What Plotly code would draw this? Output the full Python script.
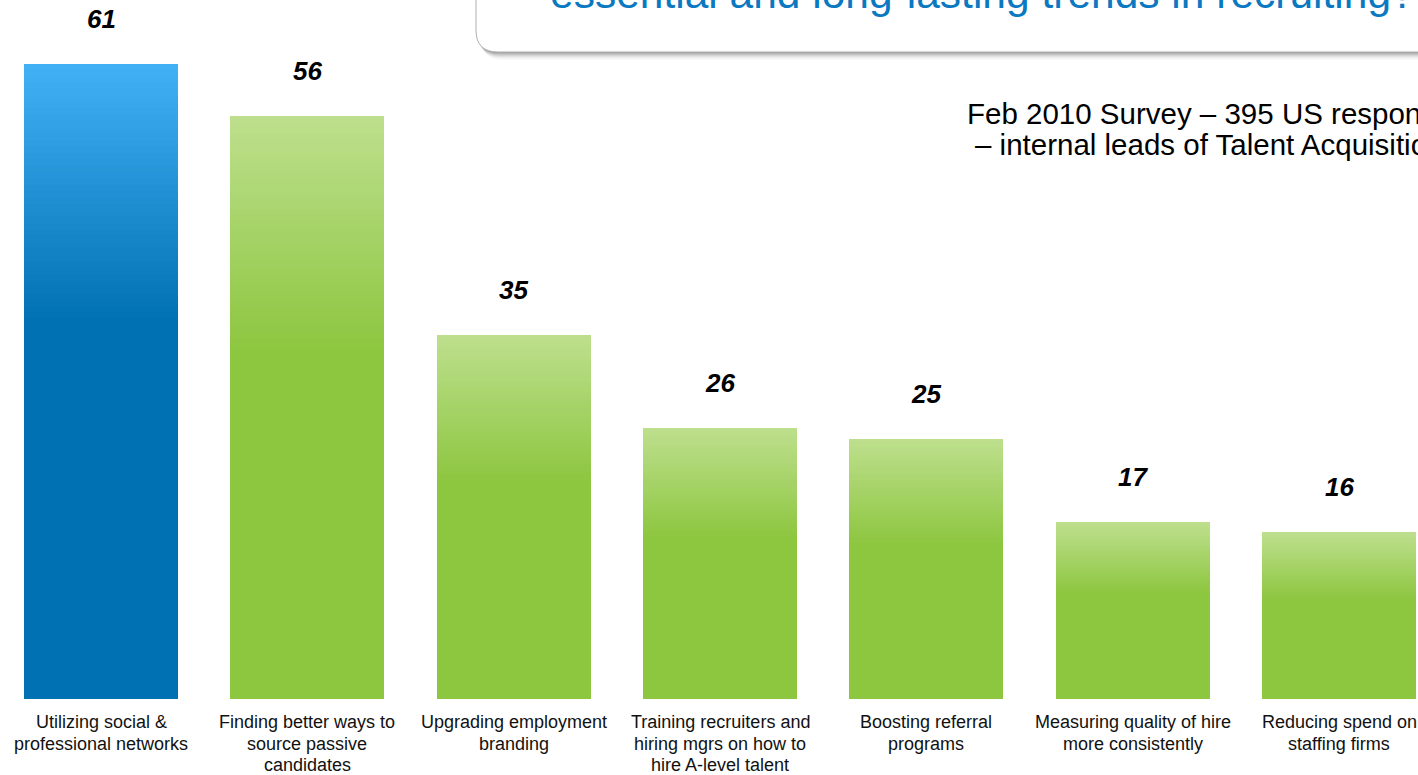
import plotly.graph_objects as go

# ---- data ----
categories = [
    "Utilizing social &<br>professional networks",
    "Finding better ways to<br>source passive<br>candidates",
    "Upgrading employment<br>branding",
    "Training recruiters and<br>hiring mgrs on how to<br>hire A-level talent",
    "Boosting referral<br>programs",
    "Measuring quality of hire<br>more consistently",
    "Reducing spend on<br>staffing firms",
]
values = [61, 56, 35, 26, 25, 17, 16]
bar_group = ["blue", "green", "green", "green", "green", "green", "green"]

title_text = "essential and long-lasting trends in recruiting?"
note_lines = ["Feb 2010 Survey – 395 US respondents", "– internal leads of Talent Acquisition"]

# ---- styling ----
W, H = 1418, 775
FONT = "Liberation Sans, Arial, sans-serif"
palette = {
    "blue": {"top": (66, 176, 245), "solid": (0, 113, 178)},
    "green": {"top": (189, 223, 141), "solid": (141, 198, 63)},
}
GRAD_FRAC = 0.40   # fraction of each bar (from the top) that is a gradient
N_STEPS = 40


def lerp(c1, c2, t):
    return "rgb(%d,%d,%d)" % tuple(round(a + (b - a) * t) for a, b in zip(c1, c2))


xs = list(range(len(values)))
fig = go.Figure()

# gradient bars: overlaid, from full height (lightest) down to the solid part
for k in range(N_STEPS + 1):
    frac = 1 - GRAD_FRAC * k / N_STEPS
    t = k / N_STEPS
    colors = [lerp(palette[g]["top"], palette[g]["solid"], t) for g in bar_group]
    fig.add_trace(go.Bar(
        x=xs, y=[v * frac for v in values],
        marker=dict(color=colors, line=dict(width=0)),
        width=0.746, hoverinfo="skip", showlegend=False,
    ))

# value labels
for x, v in zip(xs, values):
    fig.add_annotation(
        x=x, y=v, xref="x", yref="y", text="<b><i>%d</i></b>" % v,
        showarrow=False, yanchor="bottom", yshift=28,
        font=dict(family=FONT, size=26, color="#000000"),
    )

# ---- layout geometry ----
plot_h = H - 76  # plot area height in px (t=0)


def px_x(p):
    return p / W


def px_y(p):
    return (plot_h - p) / plot_h


# category labels (one annotation per text line for tight line spacing)
for x, cat in zip(xs, categories):
    for j, line in enumerate(cat.split("<br>")):
        fig.add_annotation(
            x=x, xref="x", y=px_y(722 + 21.5 * j), yref="paper",
            xanchor="center", yanchor="middle", text=line, showarrow=False,
            font=dict(family=FONT, size=18, color="#111111"),
        )


# title box with a soft shadow
def box_path(dx=0, dy=0):
    x0, x1 = 476 + dx, 1460 + dx
    y_top, y_bot = -40 + dy, 52 + dy
    r = 22
    s = "M %f,%f L %f,%f " % (px_x(x0), px_y(y_top), px_x(x0), px_y(y_bot - r))
    s += "Q %f,%f %f,%f " % (px_x(x0), px_y(y_bot), px_x(x0 + r), px_y(y_bot))
    s += "L %f,%f L %f,%f Z" % (px_x(x1), px_y(y_bot), px_x(x1), px_y(y_top))
    return s


for i, op in enumerate([0.16, 0.13, 0.10, 0.08, 0.06, 0.045, 0.03, 0.02]):
    d = 1 + i
    fig.add_shape(type="path", path=box_path(d * 0.6, d), xref="paper", yref="paper",
                  fillcolor="rgba(70,70,70,%f)" % op, line=dict(width=0), layer="below")
fig.add_shape(type="path", path=box_path(), xref="paper", yref="paper",
              fillcolor="white", line=dict(color="#b0b0b0", width=1), layer="below")

fig.add_annotation(
    x=px_x(548), y=px_y(18.5), xref="paper", yref="paper", xanchor="left", yanchor="bottom",
    text=title_text, showarrow=False,
    font=dict(family=FONT, size=42.5, color="#0a79c1"),
)

for left, base, line in [(965, 125, note_lines[0]), (973, 156, note_lines[1])]:
    fig.add_annotation(
        x=px_x(left), y=px_y(base + 7.5), xref="paper", yref="paper",
        xanchor="left", yanchor="bottom", text=line, showarrow=False,
        font=dict(family=FONT, size=29.5, color="#000000"),
    )

ymax = plot_h / (635 / 61)
fig.update_layout(
    width=W, height=H,
    margin=dict(l=0, r=0, t=0, b=76, pad=0),
    paper_bgcolor="white", plot_bgcolor="white",
    barmode="overlay", bargap=0,
    showlegend=False,
    xaxis=dict(
        range=[-101 / 206.33, 6 + 79 / 206.33],
        showticklabels=False,
        showgrid=False, zeroline=False, showline=False, ticks="",
        automargin=False, fixedrange=True,
    ),
    yaxis=dict(
        range=[0, ymax], visible=False, showgrid=False, zeroline=False,
        automargin=False, fixedrange=True,
    ),
)

fig.write_html("out.html")
